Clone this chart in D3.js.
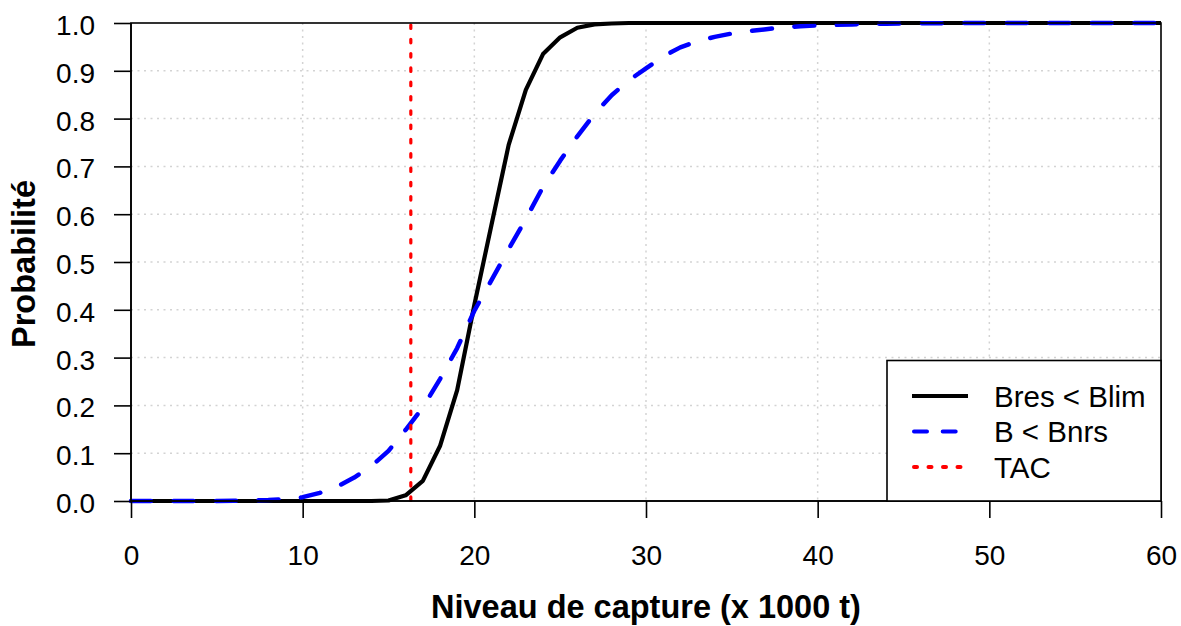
<!DOCTYPE html>
<html><head><meta charset="utf-8">
<script src="https://cdn.jsdelivr.net/npm/d3@7"></script>
<style>body{margin:0;background:#fff}svg{display:block;font-family:"Liberation Sans",Arial,sans-serif}</style>
</head><body><svg id="c" width="1181" height="626"></svg>
<script>
const catchLevels = d3.range(0, 61, 1);
const pBresBlim = [0,0,0,0,0,0,0,0,0,0,0,0,0,0,0,0.001,0.012,0.042,0.115,0.232,0.41,0.578,0.745,0.86,0.935,0.97,0.99,0.997,0.999,1,
  1,1,1,1,1,1,1,1,1,1,1,1,1,1,1,1,1,1,1,1,1,1,1,1,1,1,1,1,1,1,1];
const pBBnrs = [0,0,0,0,0,0,0.0005,0.001,0.002,0.004,0.008,0.017,0.03,0.049,0.073,0.105,0.149,0.196,0.255,0.32,0.398,0.462,0.527,0.59,0.657,0.712,0.763,0.81,0.849,0.88,
  0.905,0.93,0.949,0.962,0.971,0.978,0.983,0.987,0.991,0.993,0.995,0.996,0.997,0.998,0.9985,0.999,0.9993,0.9995,0.9997,0.9998,1,1,1,1,1,1,1,1,1,1,1];
const tac = 16.3;
const xTicks = [0,10,20,30,40,50,60];
const yTicks = [0,0.1,0.2,0.3,0.4,0.5,0.6,0.7,0.8,0.9,1.0];
const xGrid = [10,20,30,40,50];
const yGrid = [0.1,0.2,0.3,0.4,0.5,0.6,0.7,0.8,0.9];
const legendLabels = ["Bres < Blim","B < Bnrs","TAC"];

const svg = d3.select("#c");
const L=131,R=1161,T=23,B=501;
const x = d3.scaleLinear().domain([0,60]).range([L,R]);
const y = d3.scaleLinear().domain([0,1]).range([B,T]);

// grid
const g = svg.append("g").attr("stroke","#d3d3d3").attr("stroke-width",1.5).attr("stroke-dasharray","2,4.5");
g.selectAll("line.v").data(xGrid).join("line").attr("x1",d=>x(d)).attr("x2",d=>x(d)).attr("y1",T).attr("y2",B);
g.selectAll("line.h").data(yGrid).join("line").attr("x1",L).attr("x2",R).attr("y1",d=>y(d)).attr("y2",d=>y(d));

const line = d3.line().x((d,i)=>x(catchLevels[i])).y(d=>y(d));
svg.append("path").datum(pBresBlim).attr("d",line).attr("fill","none").attr("stroke","#000").attr("stroke-width",4.2).attr("stroke-linejoin","round");
svg.append("path").datum(pBBnrs).attr("d",line).attr("fill","none").attr("stroke","#0000ff").attr("stroke-width",4.5)
  .attr("stroke-dasharray","20,22.5").attr("stroke-linecap","round").attr("stroke-linejoin","round");
svg.append("line").attr("x1",x(tac)).attr("x2",x(tac)).attr("y1",T+2).attr("y2",B)
  .attr("stroke","#ff0000").attr("stroke-width",3.2).attr("stroke-dasharray","3.5,10.8").attr("stroke-linecap","round");

// box
svg.append("rect").attr("x",L).attr("y",T).attr("width",R-L).attr("height",B-T).attr("fill","none").attr("stroke","#000").attr("stroke-width",1.6);

// axes
const xa = svg.append("g").attr("transform",`translate(0,${B})`).call(d3.axisBottom(x).tickValues(xTicks).tickFormat(d3.format("d")).tickSize(17).tickPadding(0));
xa.select(".domain").attr("stroke-width",1.6).attr("d",`M${L},0H${R}`);
xa.selectAll(".tick line").attr("stroke-width",1.6);
xa.selectAll(".tick text").attr("font-size",28).attr("font-family","Liberation Sans, Arial, sans-serif").attr("fill","#000").attr("dy",null).attr("y",64);

const ya = svg.append("g").attr("transform",`translate(${L},0)`).call(d3.axisLeft(y).tickValues(yTicks).tickFormat(d3.format(".1f")).tickSize(17).tickPadding(0));
ya.select(".domain").attr("stroke-width",1.6).attr("d",`M0,${B}V${T}`);
ya.selectAll(".tick line").attr("stroke-width",1.6);
ya.selectAll(".tick text").attr("font-size",28).attr("font-family","Liberation Sans, Arial, sans-serif").attr("fill","#000").attr("dy",null).attr("x",-36).attr("y",11.5);

// titles
svg.append("text").attr("x",(L+R)/2).attr("y",618).attr("text-anchor","middle").attr("font-size",32.5).attr("font-weight","bold").text("Niveau de capture (x 1000 t)");
svg.append("text").attr("transform","translate(35,264) rotate(-90)").attr("text-anchor","middle").attr("font-size",32.5).attr("font-weight","bold").text("Probabilité");

// legend
const lg = svg.append("g");
lg.append("rect").attr("x",887).attr("y",360.5).attr("width",R-887).attr("height",B-360.5).attr("fill","#fff").attr("stroke","#000").attr("stroke-width",1.6);
const rows=[396,431.5,467];
const styles=[{c:"#000",w:4,da:null,cap:"butt"},{c:"#0000ff",w:4,da:"13,15.7",cap:"round"},{c:"#ff0000",w:4,da:"3,11.5",cap:"round"}];
lg.selectAll("line.lg").data(legendLabels).join("line").attr("x1",(d,i)=>styles[i].cap==="round"?914:912).attr("x2",968)
  .attr("y1",(d,i)=>rows[i]).attr("y2",(d,i)=>rows[i]).attr("stroke",(d,i)=>styles[i].c).attr("stroke-width",(d,i)=>styles[i].w)
  .attr("stroke-dasharray",(d,i)=>styles[i].da).attr("stroke-linecap",(d,i)=>styles[i].cap);
lg.selectAll("text").data(legendLabels).join("text").attr("x",994).attr("y",(d,i)=>rows[i]+10.7).attr("font-size",29.5).attr("fill","#000").text(d=>d);
</script></body></html>
